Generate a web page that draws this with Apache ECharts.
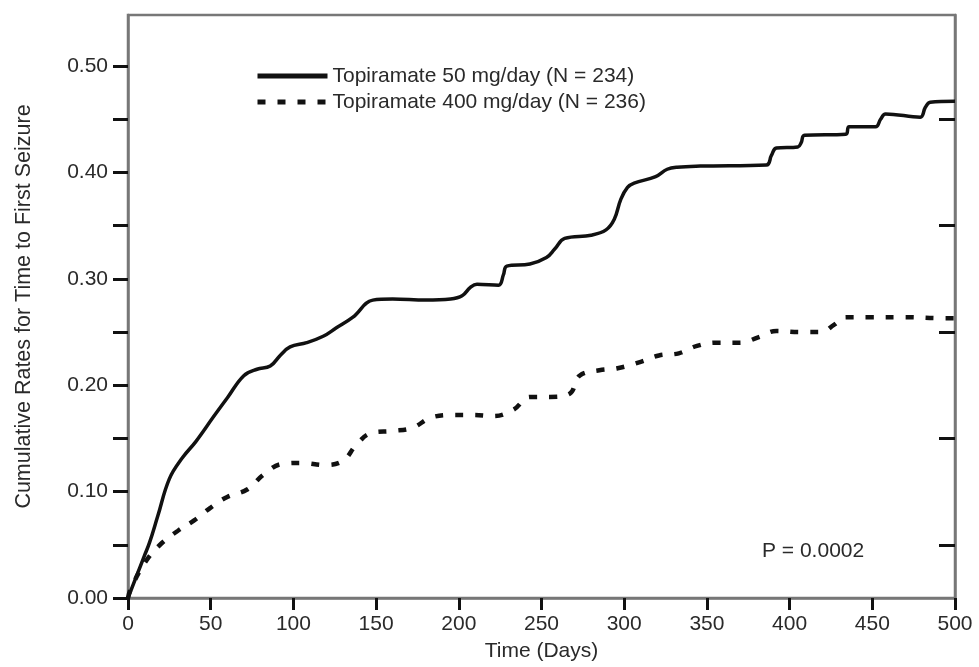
<!DOCTYPE html>
<html>
<head>
<meta charset="utf-8">
<script src="https://cdn.jsdelivr.net/npm/echarts@6/dist/echarts.min.js"></script>
<style>
  html, body { margin: 0; padding: 0; background: #fff; }
  #chart { width: 979px; height: 667px; }
</style>
</head>
<body>
<div id="chart"></div>
<script>
// ---- Data ----
var seriesNames = ['Topiramate 50 mg/day (N = 234)', 'Topiramate 400 mg/day (N = 236)'];

var days50 = [0, 5, 10, 13, 18, 25, 33, 41, 52, 60, 70, 78, 86, 92, 98, 108, 118, 126, 136, 148,
  160, 180, 195, 202, 207, 211, 224, 227, 229, 243, 253, 258, 264, 280, 289, 294, 298, 302, 306,
  319, 326, 332, 346, 386, 389, 392, 405, 407, 409, 434, 436, 452, 455, 458, 479, 482, 485, 500];
var rates50 = [0, 0.02, 0.04, 0.052, 0.077, 0.112, 0.132, 0.147, 0.171, 0.188, 0.209, 0.215, 0.218,
  0.228, 0.236, 0.240, 0.246, 0.254, 0.264, 0.280, 0.281, 0.280, 0.281, 0.284, 0.292, 0.295, 0.294,
  0.304, 0.312, 0.314, 0.320, 0.328, 0.338, 0.341, 0.346, 0.356, 0.375, 0.386, 0.390, 0.396, 0.403,
  0.405, 0.406, 0.407, 0.416, 0.423, 0.424, 0.428, 0.435, 0.436, 0.443, 0.443, 0.450, 0.455, 0.452,
  0.461, 0.466, 0.467];

var days400 = [0, 2, 11, 20, 30, 40, 50, 60, 72, 82, 93, 105, 119, 130, 138, 147, 160, 172, 184,
  197, 209, 221, 233, 243, 255, 267, 273, 285, 296, 310, 321, 333, 344, 356, 370, 381, 392, 406,
  419, 427, 434, 449, 470, 492, 500];
var rates400 = [0, 0.01, 0.035, 0.051, 0.063, 0.073, 0.085, 0.095, 0.102, 0.116, 0.126, 0.127,
  0.125, 0.129, 0.144, 0.155, 0.157, 0.160, 0.170, 0.172, 0.172, 0.171, 0.177, 0.189, 0.189, 0.192,
  0.209, 0.214, 0.216, 0.222, 0.228, 0.230, 0.237, 0.240, 0.240, 0.245, 0.251, 0.250, 0.250, 0.257,
  0.264, 0.264, 0.264, 0.263, 0.263];

var xTicks = [0, 50, 100, 150, 200, 250, 300, 350, 400, 450, 500];
var yLabelTicks = [0, 0.1, 0.2, 0.3, 0.4, 0.5];
var yLeftTicks = [0, 0.05, 0.1, 0.15, 0.2, 0.25, 0.3, 0.35, 0.4, 0.45, 0.5];
var yRightTicks = [0.05, 0.15, 0.25, 0.35, 0.45];

var pValueText = 'P = 0.0002';
var xTitle = 'Time (Days)';
var yTitle = 'Cumulative Rates for Time to First Seizure';

function pairs(xs, ys) {
  var out = [];
  for (var i = 0; i < xs.length; i++) out.push([xs[i], ys[i]]);
  return out;
}

var FONT = '"Liberation Sans", Arial, sans-serif';
var AXIS_GRAY = '#777777';
var TEXT = '#2a2a2a';
var FS = 21;

var chart = echarts.init(document.getElementById('chart'), null, { renderer: 'canvas' });

var option = {
  animation: false,
  backgroundColor: '#ffffff',
  grid: {
    left: 128, right: 24, top: 15, bottom: 64,
    show: true, borderColor: AXIS_GRAY, borderWidth: 2.5, backgroundColor: 'transparent'
  },
  legend: {
    orient: 'vertical',
    left: 250, top: 60,
    itemWidth: 70, itemHeight: 14, itemGap: 4,
    itemStyle: { opacity: 0 },
    lineStyle: { width: 5 },
    textStyle: { fontFamily: FONT, fontSize: FS, color: TEXT, lineHeight: 22 },
    data: seriesNames
  },
  xAxis: {
    type: 'value', min: 0, max: 500, interval: 50,
    name: xTitle, nameLocation: 'middle', nameGap: 43,
    nameTextStyle: { fontFamily: FONT, fontSize: FS, color: TEXT },
    axisLine: { show: true, lineStyle: { color: AXIS_GRAY, width: 2.5 } },
    axisTick: { show: true, inside: false, length: 12, lineStyle: { color: '#111', width: 3 },
      customValues: xTicks },
    axisLabel: { margin: 16, fontFamily: FONT, fontSize: FS, color: TEXT, customValues: xTicks },
    splitLine: { show: false }
  },
  yAxis: [
    {
      type: 'value', min: 0, max: 0.548, position: 'left',
      name: yTitle, nameLocation: 'middle', nameGap: 93, nameRotate: 90,
      nameTextStyle: { fontFamily: FONT, fontSize: 21.5, color: TEXT },
      axisLine: { show: true, lineStyle: { color: AXIS_GRAY, width: 2.5 } },
      axisTick: { show: true, inside: false, length: 15, lineStyle: { color: '#111', width: 3 },
        customValues: yLeftTicks },
      axisLabel: { margin: 20, fontFamily: FONT, fontSize: FS, color: TEXT,
        customValues: yLabelTicks,
        formatter: function (v) { return v.toFixed(2); } },
      splitLine: { show: false }
    },
    {
      type: 'value', min: 0, max: 0.548, position: 'right',
      axisLine: { show: true, lineStyle: { color: AXIS_GRAY, width: 2.5 } },
      axisTick: { show: true, inside: true, length: 16, lineStyle: { color: '#111', width: 3 },
        customValues: yRightTicks },
      axisLabel: { show: false },
      splitLine: { show: false }
    }
  ],
  graphic: [
    {
      type: 'text', left: 762, top: 541,
      style: { text: pValueText, fontFamily: FONT, fontSize: FS, fill: TEXT }
    }
  ],
  series: [
    {
      name: seriesNames[0], type: 'line', data: pairs(days50, rates50),
      symbol: 'none', smooth: 0.4,
      lineStyle: { color: '#111', width: 3.5 },
      itemStyle: { color: '#111' }
    },
    {
      name: seriesNames[1], type: 'line', data: pairs(days400, rates400),
      symbol: 'none', smooth: 0.4,
      lineStyle: { color: '#111', width: 4.5, type: [8, 12], cap: 'butt' },
      itemStyle: { color: '#111' }
    }
  ]
};
chart.setOption(option);
</script>
</body>
</html>
